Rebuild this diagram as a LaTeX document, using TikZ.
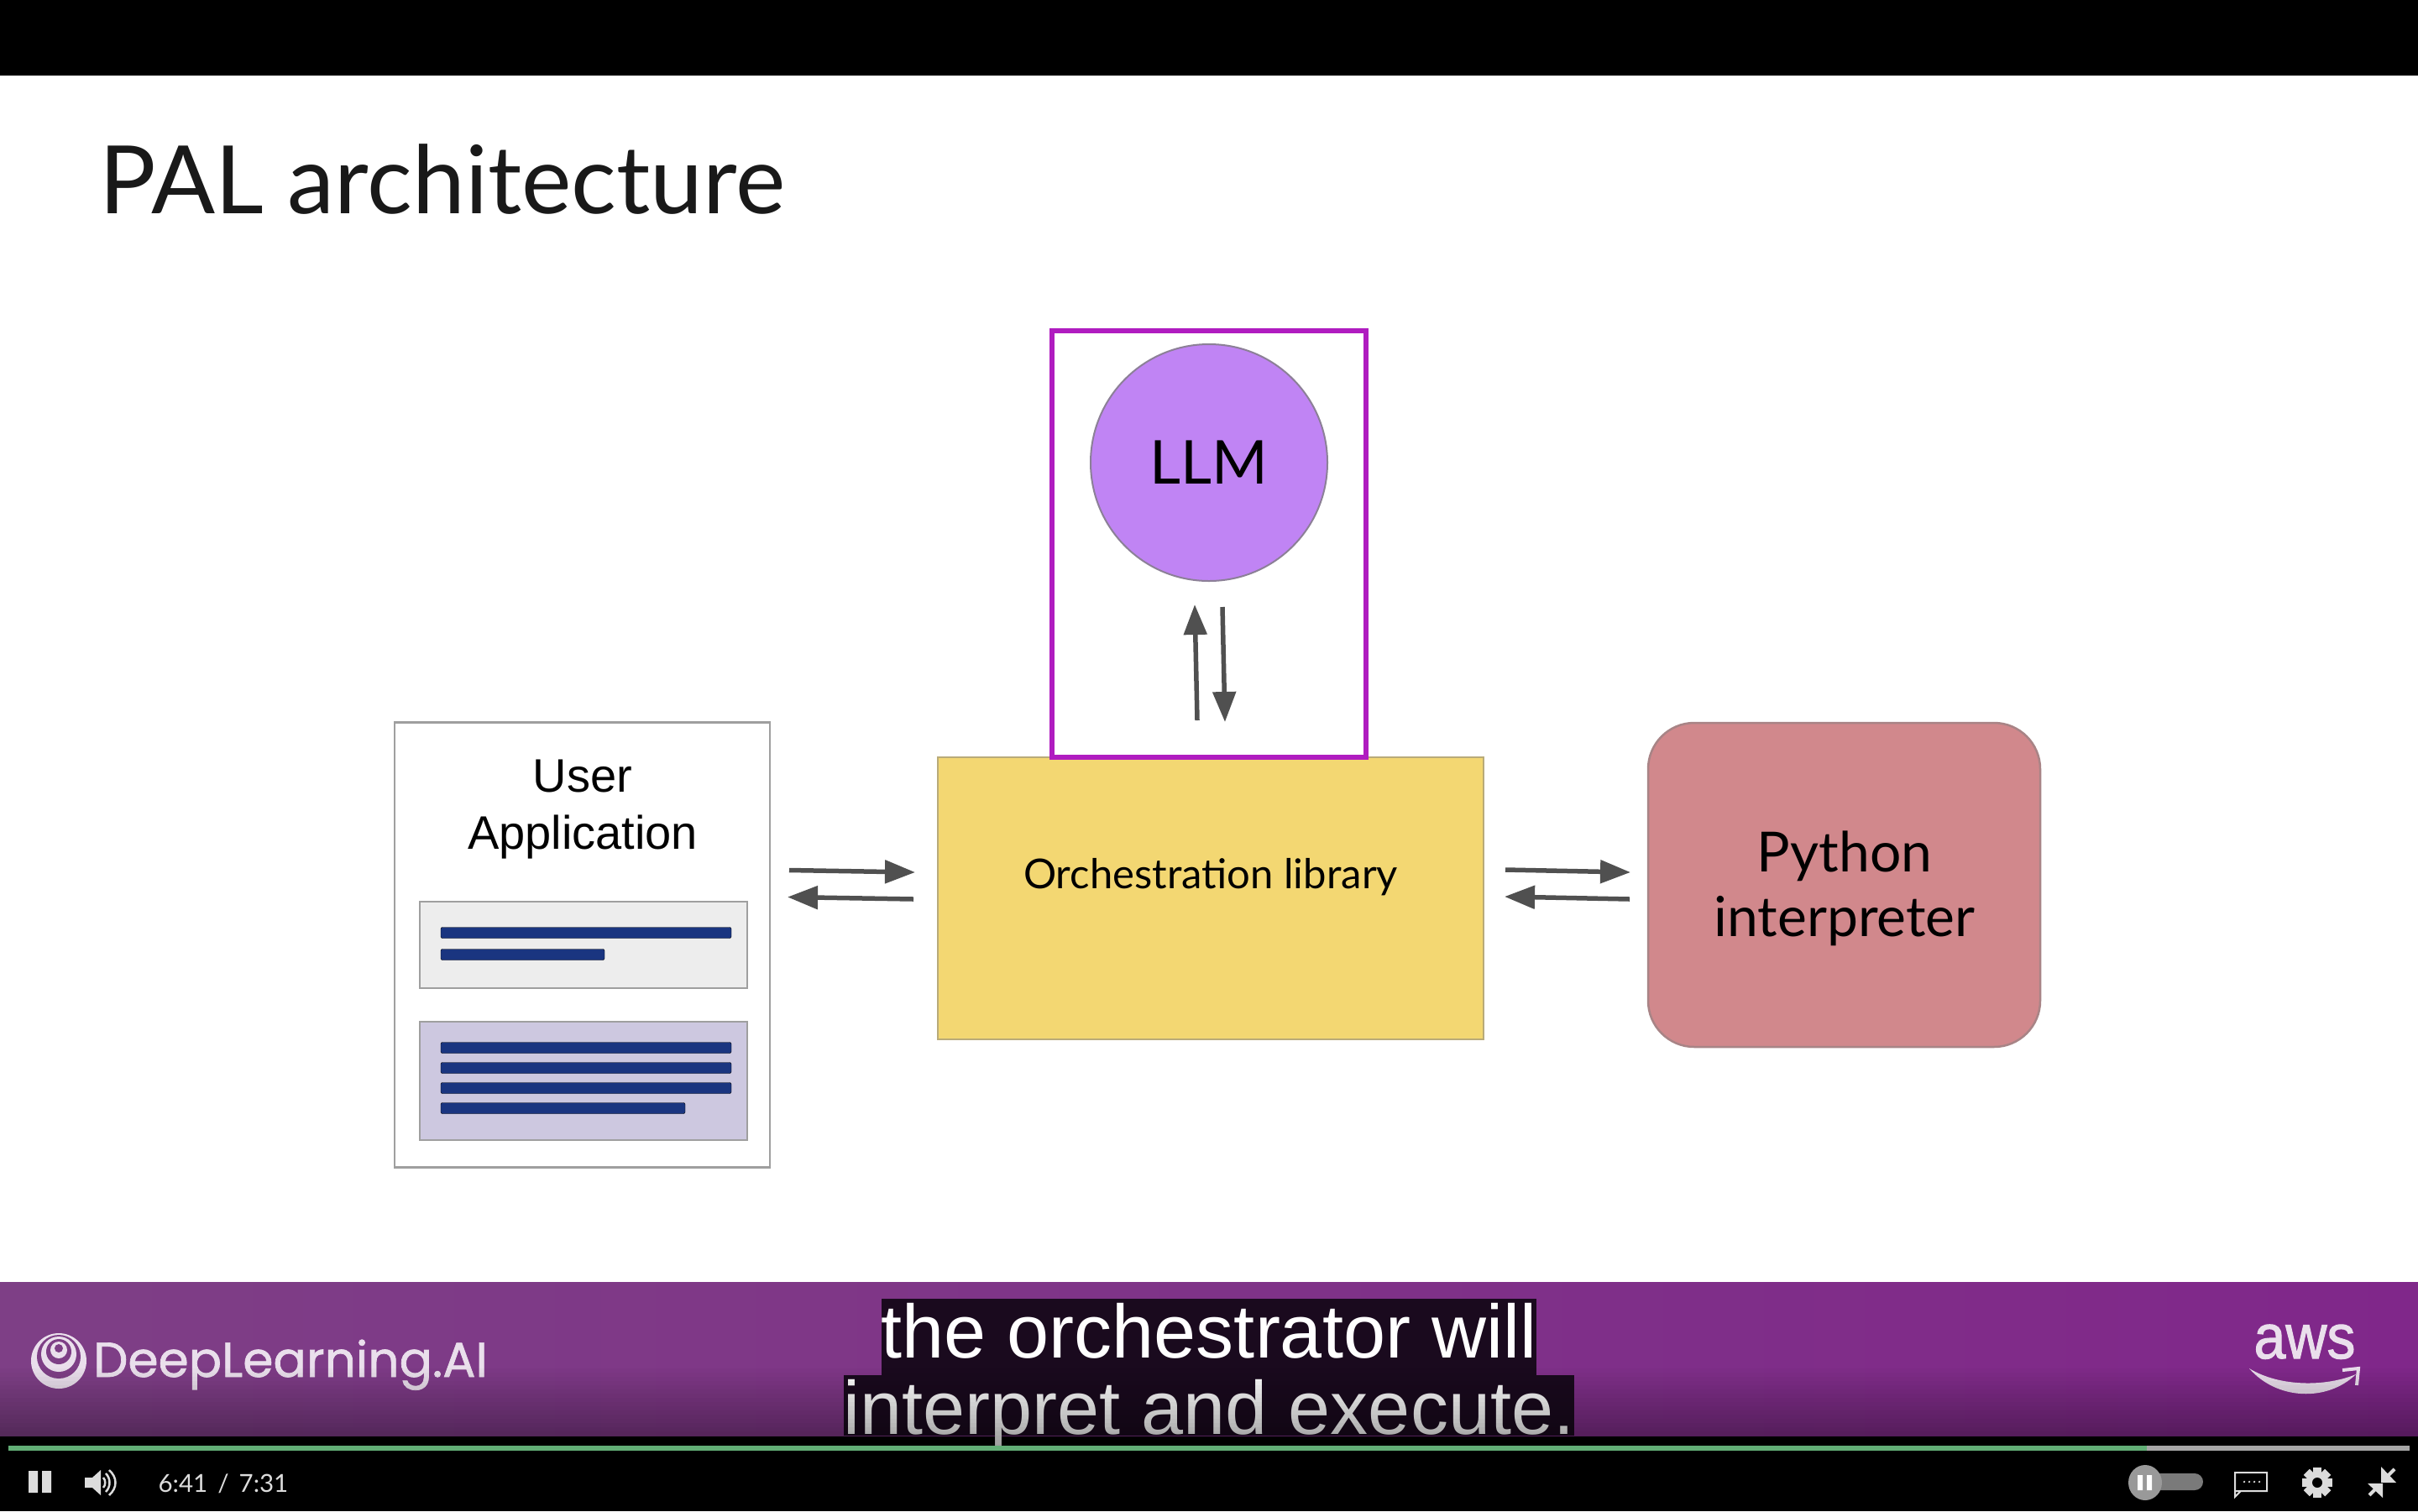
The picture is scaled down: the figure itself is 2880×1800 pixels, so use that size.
\documentclass[tikz,border=0pt]{standalone}
\usepackage{fontspec}
\setmainfont{Lato}
\newfontfamily\arialfont{Liberation Sans}
\newfontfamily\logofont[FakeBold=1.2]{Poppins}
\newfontfamily\awsfont[FakeBold=1.5]{Liberation Sans}
\usetikzlibrary{positioning, arrows.meta}

\definecolor{bandLeft}{HTML}{7E3F86}
\definecolor{bandMid}{HTML}{863589}
\definecolor{bandRight}{HTML}{80278A}
\definecolor{capDark}{HTML}{1A0A1E}
\definecolor{barBlue}{HTML}{1A3580}
\definecolor{flowGray}{HTML}{505050}
\definecolor{frameMagenta}{HTML}{B01CC0}
\definecolor{orchYellow}{HTML}{F3D772}
\definecolor{pyRose}{HTML}{D1888C}
\definecolor{llmPurple}{HTML}{C084F4}
\definecolor{panelLilac}{HTML}{CDC8E0}
\definecolor{logoWhite}{HTML}{EADFEC}
\definecolor{ctrlGray}{HTML}{DCDCDC}
\definecolor{playGreen}{HTML}{62AE76}

\tikzset{
  block/.style={rectangle, draw=#1!50!gray, outer sep=0pt, inner sep=0pt, line width=2.5pt},
  flow/.style={-{Triangle[length=36pt,width=27pt]}, flowGray, line width=5.5pt},
  barline/.style={fill=barBlue, rounded corners=2pt},
  capline/.style={fill=capDark, text=white, inner sep=0pt, anchor=north, font=\arialfont\fontsize{90}{100}\selectfont},
  ctrl/.style={fill=ctrlGray}
}

\begin{document}
\begin{tikzpicture}[x=1pt, y=-1pt]
    \useasboundingbox (0,0) rectangle (2880,1800);
    % Video frame
    \fill[black] (0,0) rectangle (2880,1800);
    \fill[white] (0,90) rectangle (2880,1527);
    \fill[left color=bandLeft, middle color=bandMid, right color=bandRight] (0,1527) rectangle (2880,1710);
    % Slide title
    \node[anchor=base west, inner sep=0pt, text=black!90, font=\fontsize{112.5}{130}\selectfont] (title) at (118,254) {PAL architecture};
    % Blocks
    \node[block=lightgray, fill=white, minimum width=447pt, minimum height=530pt] (app) at (693.5,1125.5) {};
    \node[inner sep=0pt, align=center, font=\arialfont\fontsize{56}{68}\selectfont] (appname) at (694,964) {User\\Application};
    \node[block=lightgray, fill=black!7, minimum width=390pt, minimum height=103pt] (panelA) at (695,1125.5) {};
    \node[block=lightgray, fill=panelLilac, minimum width=390pt, minimum height=141pt, below=40pt of panelA] (panelB) {};
    \node[block=orchYellow, fill=orchYellow, minimum width=650pt, minimum height=336pt] (orch) at (1442,1070) {};
    \node[inner sep=0pt, font=\fontsize{49}{60}\selectfont] (orchname) at (1442,1045) {Orchestration library};
    \node[rectangle, draw=frameMagenta, line width=5.5pt, outer sep=0pt, minimum width=374pt, minimum height=508pt, above=0pt of orch, xshift=-2pt] (frame) {};
    \node[circle, draw=gray!80!llmPurple, fill=llmPurple, line width=2pt, inner sep=0pt, outer sep=0pt, minimum size=282pt, font=\fontsize{72}{90}\selectfont] (llm) at (1440,551) {LLM};
    \node[block=pyRose, fill=pyRose, rounded corners=55pt, minimum width=467pt, minimum height=386pt, right=196pt of orch, yshift=16pt] (python) {};
    \node[inner sep=0pt, align=center, font=\fontsize{66}{77}\selectfont] (pyname) at (2197,1058) {Python\\interpreter};
    % Text lines in the panels
    \foreach \ypos/\xend in {1111/871, 1137/720, 1248/871, 1272/871, 1296/871, 1320/816}
        \draw[barline] (525,\ypos-6.5) rectangle (\xend,\ypos+6.5);
    % Arrows between blocks
    \draw[flow] ([xshift=23pt,yshift=89pt]app.east) -- ([xshift=-27pt,yshift=31pt]orch.west);
    \draw[flow] ([xshift=-29pt,yshift=-1pt]orch.west) -- ([xshift=21pt,yshift=57pt]app.east);
    \draw[flow] ([xshift=26pt,yshift=34pt]orch.east) -- ([xshift=-21pt,yshift=15pt]python.west);
    \draw[flow] ([xshift=-22pt,yshift=-17pt]python.west) -- ([xshift=25pt,yshift=2pt]orch.east);
    \draw[flow] ([xshift=-16pt,yshift=44pt]orch.north) -- ([xshift=-17pt,yshift=-28pt]llm.south);
    \draw[flow] ([xshift=16pt,yshift=-31pt]llm.south) -- ([xshift=17pt,yshift=42pt]orch.north);
    % Banner logos
    \fill[logoWhite] (70,1621) circle (33);
    \fill[bandLeft] (70,1616) circle (26);
    \fill[logoWhite] (70,1613) circle (21);
    \fill[bandLeft] (70,1610) circle (15);
    \fill[logoWhite] (70,1608) circle (10);
    \fill[bandLeft] (70,1606) circle (5);
    \node[anchor=base west, inner sep=0pt, text=logoWhite, font=\logofont\fontsize{58.3}{70}\selectfont] (brand) at (111,1640) {DeepLearning.AI};
    \node[anchor=base, inner sep=0pt, text=logoWhite, font=\awsfont\fontsize{68}{70}\selectfont, yscale=1.1] (aws) at (2745,1618) {aws};
    \fill[logoWhite] (2679,1630) .. controls (2712,1668) and (2772,1670) .. (2806,1637) .. controls (2770,1652) and (2715,1652) .. (2679,1630);
    \draw[logoWhite, line width=4pt] (2790,1632) -- (2809,1630) -- (2807,1650);
    % Caption
    \node[capline, minimum width=780pt, text height=70pt, text depth=21pt] (capA) at (1440,1547) {the orchestrator will};
    \node[capline, minimum width=870pt, text height=70pt, text depth=2pt] (capB) at (1440,1638) {interpret and execute.};
    % Dark fall-off at the foot of the banner
    \foreach \i in {0,...,19} {
        \pgfmathsetmacro{\shadeop}{0.02*\i}
        \fill[black, opacity=\shadeop] (0,1625+5*\i) rectangle (2880,1630+5*\i);
    }
    % Player controls
    \fill[playGreen] (10,1722) rectangle (2557,1728);
    \fill[black!35] (2557,1722) rectangle (2870,1728);
    \fill[ctrl] (34,1752) rectangle (45,1778) (50,1752) rectangle (61,1778);
    \fill[ctrl] (101,1760) -- (110,1760) -- (120,1751) -- (120,1781) -- (110,1772) -- (101,1772) -- cycle;
    \draw[ctrlGray, line width=2.5pt] (123,1760) .. controls (126,1763) and (126,1769) .. (123,1772);
    \draw[ctrlGray, line width=2.5pt] (126,1755) .. controls (132,1761) and (132,1771) .. (126,1777);
    \draw[ctrlGray, line width=2.5pt] (130,1751) .. controls (140,1760) and (140,1772) .. (130,1781);
    \node[inner sep=0pt, text=ctrlGray, font=\fontsize{29.5}{30}\selectfont] (clock) at (266,1767) {6:41\hspace{12pt}/\hspace{12pt}7:31};
    \fill[black!52, rounded corners=10pt] (2555,1755) rectangle (2624,1775);
    \fill[black!40] (2555,1766) ellipse (20 and 21);
    \fill[white] (2546,1757) rectangle (2552,1775) (2557,1757) rectangle (2563,1775);
    \draw[ctrlGray, line width=2pt] (2662,1754) rectangle (2700,1776) (2662,1776) -- (2662,1783) -- (2669,1776);
    \foreach \xpos in {2673,2679,2685,2691}
        \fill[ctrlGray] (\xpos,1765) circle (1.3);
    \foreach \ang in {0,45,...,315}
        \fill[ctrlGray, rotate around={\ang:(2760,1766)}] (2755,1748) rectangle (2765,1756);
    \fill[ctrlGray] (2760,1766) circle (13);
    \fill[black] (2760,1766) circle (6);
    \draw[ctrlGray, line width=4pt] (2852,1750) -- (2841,1761) (2822,1781) -- (2833,1770);
    \fill[ctrlGray] (2836,1747) -- (2836,1766) -- (2854,1766) -- cycle;
    \fill[ctrlGray] (2838,1784) -- (2838,1767) -- (2820,1767) -- cycle;
\end{tikzpicture}
\end{document}
